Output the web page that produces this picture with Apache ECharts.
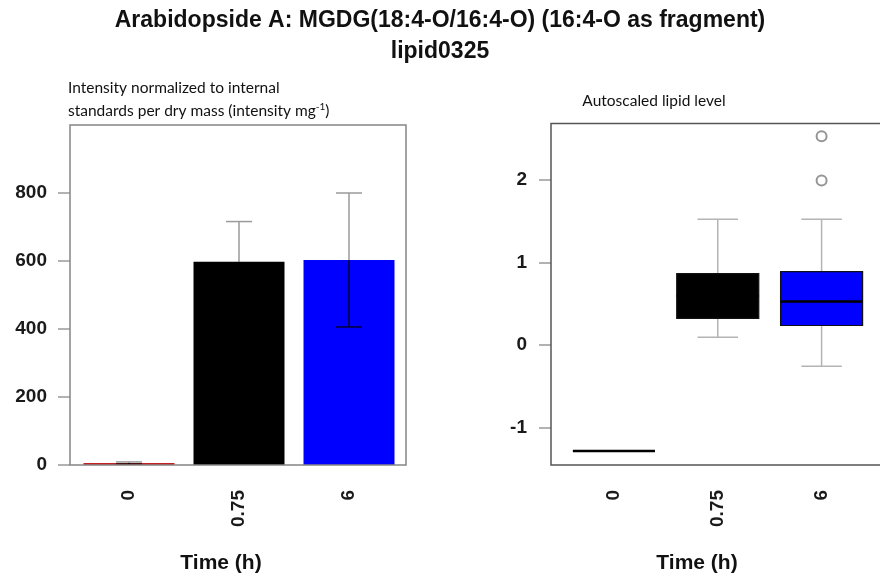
<!DOCTYPE html>
<html>
<head>
<meta charset="utf-8">
<script src="https://cdn.jsdelivr.net/npm/echarts@6/dist/echarts.min.js"></script>
<style>
  html, body { margin: 0; padding: 0; background: #ffffff; }
  #chart { width: 880px; height: 581px; }
</style>
</head>
<body>
<div id="chart"></div>
<script>
// Sampling times (h)
const timePoints = ['0', '0.75', '6'];
const barColors = ['#c42222', '#000000', '#0000ff'];

// Normalized intensity (intensity mg^-1): mean and standard deviation
const meanIntensity = [6, 598, 603];
const sdIntensity = [3, 118, 197];
const intensityTicks = [0, 200, 400, 600, 800];

// Autoscaled lipid level: [lower whisker, Q1, median, Q3, upper whisker]
const lowWhisker = [-1.282, 0.097, -0.255];
const q1 = [-1.282, 0.324, 0.239];
const median = [-1.282, 0.60, 0.530];
const q3 = [-1.282, 0.867, 0.891];
const highWhisker = [-1.282, 1.525, 1.525];
const outlierTime = ['6', '6'];
const outlierValue = [2.533, 1.996];
const autoscaleTicks = [-1, 0, 1, 2];

const tickFont = { fontFamily: 'Liberation Sans', fontWeight: 'bold', fontSize: 19, color: '#1a1a1a' };

const chart = echarts.init(document.getElementById('chart'), null, { renderer: 'canvas' });

function errorBarItem(params, api) {
  const i = api.value(0), m = api.value(1), s = api.value(2);
  const top = api.coord([i, m + s]);
  const mid = api.coord([i, m]);
  const bot = api.coord([i, m - s]);
  const hw = 13;
  const upper = { stroke: '#9a9a9a', lineWidth: 1.5 };
  const lower = { stroke: '#000000', lineWidth: 1.2 };
  return {
    type: 'group',
    children: [
      { type: 'line', shape: { x1: mid[0], y1: mid[1], x2: top[0], y2: top[1] }, style: upper },
      { type: 'line', shape: { x1: top[0] - hw, y1: top[1], x2: top[0] + hw, y2: top[1] }, style: upper },
      { type: 'line', shape: { x1: mid[0], y1: mid[1], x2: bot[0], y2: bot[1] }, style: lower },
      { type: 'line', shape: { x1: bot[0] - hw, y1: bot[1], x2: bot[0] + hw, y2: bot[1] }, style: lower }
    ]
  };
}

function boxItem(params, api) {
  const i = api.value(0);
  const band = api.size([1, 0])[0];
  const boxW = band * 0.79;
  const capW = band * 0.39;
  const pLow = api.coord([i, api.value(1)]);
  const pQ1 = api.coord([i, api.value(2)]);
  const pMed = api.coord([i, api.value(3)]);
  const pQ3 = api.coord([i, api.value(4)]);
  const pHigh = api.coord([i, api.value(5)]);
  const x = pMed[0];
  const whisker = { stroke: '#b4b4b4', lineWidth: 1.5 };
  return {
    type: 'group',
    children: [
      { type: 'line', shape: { x1: x, y1: pQ3[1], x2: x, y2: pHigh[1] }, style: whisker },
      { type: 'line', shape: { x1: x - capW / 2, y1: pHigh[1], x2: x + capW / 2, y2: pHigh[1] }, style: whisker },
      { type: 'line', shape: { x1: x, y1: pQ1[1], x2: x, y2: pLow[1] }, style: whisker },
      { type: 'line', shape: { x1: x - capW / 2, y1: pLow[1], x2: x + capW / 2, y2: pLow[1] }, style: whisker },
      {
        type: 'rect',
        shape: { x: x - boxW / 2, y: pQ3[1], width: boxW, height: pQ1[1] - pQ3[1] },
        style: { fill: barColors[i], stroke: '#111', lineWidth: 1.2 }
      },
      { type: 'line', shape: { x1: x - boxW / 2, y1: pMed[1], x2: x + boxW / 2, y2: pMed[1] }, style: { stroke: '#000000', lineWidth: 2.5 } }
    ]
  };
}

const option = {
  backgroundColor: '#ffffff',
  animation: false,
  grid: [
    { left: 74, top: 125, width: 330, height: 340 },
    { left: 562, top: 123.5, width: 311.5, height: 341.5 }
  ],
  xAxis: [
    {
      gridIndex: 0, type: 'category', data: timePoints,
      axisLine: { show: false },
      axisTick: { alignWithLabel: true, length: 12, lineStyle: { color: '#999', width: 1.5 } },
      axisLabel: Object.assign({ rotate: 90, margin: 25 }, tickFont)
    },
    {
      gridIndex: 1, type: 'category', data: timePoints,
      axisLine: { show: false },
      axisTick: { alignWithLabel: true, length: 12, lineStyle: { color: '#999', width: 1.5 } },
      axisLabel: Object.assign({ rotate: 90, margin: 25 }, tickFont)
    }
  ],
  yAxis: [
    {
      gridIndex: 0, type: 'value', min: 0, max: 1000, offset: 4,
      axisLine: { show: false },
      splitLine: { show: false },
      axisTick: { show: true, length: 12, customValues: intensityTicks, lineStyle: { color: '#999', width: 1.5 } },
      axisLabel: Object.assign({ margin: 23, customValues: intensityTicks }, tickFont)
    },
    {
      gridIndex: 1, type: 'value', min: -1.452, max: 2.687, offset: 11,
      axisLine: { show: false },
      splitLine: { show: false },
      axisTick: { show: true, length: 12, customValues: autoscaleTicks, lineStyle: { color: '#999', width: 1.5 } },
      axisLabel: Object.assign({ margin: 24, customValues: autoscaleTicks }, tickFont)
    }
  ],
  series: [
    {
      type: 'bar', xAxisIndex: 0, yAxisIndex: 0, barWidth: 91,
      data: meanIntensity.map((v, i) => ({ value: v, itemStyle: { color: barColors[i] } }))
    },
    {
      type: 'custom', xAxisIndex: 0, yAxisIndex: 0, z: 5,
      renderItem: errorBarItem,
      encode: { x: 0, y: 1 },
      data: meanIntensity.map((m, i) => [i, m, sdIntensity[i]])
    },
    {
      type: 'custom', xAxisIndex: 1, yAxisIndex: 1,
      renderItem: boxItem,
      encode: { x: 0, y: [1, 2, 3, 4, 5] },
      data: timePoints.map((t, i) => [i, lowWhisker[i], q1[i], median[i], q3[i], highWhisker[i]])
    },
    {
      type: 'scatter', xAxisIndex: 1, yAxisIndex: 1, z: 6,
      symbol: 'emptyCircle', symbolSize: 10,
      itemStyle: { color: '#7a7a7a', borderColor: '#7a7a7a', borderWidth: 1.5 },
      data: outlierTime.map((t, i) => [t, outlierValue[i]])
    }
  ],
  graphic: [
    // plot frames
    { type: 'rect', z: 50, shape: { x: 70, y: 125, width: 336, height: 340 }, style: { fill: 'none', stroke: '#858585', lineWidth: 1.5 } },
    { type: 'rect', z: 50, shape: { x: 551, y: 123.5, width: 345, height: 341.5 }, style: { fill: 'none', stroke: '#555555', lineWidth: 1.5 } },
    // titles
    { type: 'text', x: 440, y: 21, style: { text: 'Arabidopside A: MGDG(18:4-O/16:4-O) (16:4-O as fragment)', align: 'center', verticalAlign: 'middle', font: 'bold 23px "Liberation Sans"', fill: '#111' } },
    { type: 'text', x: 440, y: 52, style: { text: 'lipid0325', align: 'center', verticalAlign: 'middle', font: 'bold 23px "Liberation Sans"', fill: '#111' } },
    { type: 'text', x: 68, y: 88, style: { text: 'Intensity normalized to internal', align: 'left', verticalAlign: 'middle', font: '15.5px Lato', fill: '#111' } },
    {
      type: 'text', x: 68, y: 111,
      style: {
        text: 'standards per dry mass (intensity mg{sup|-1})',
        align: 'left', verticalAlign: 'middle', font: '15.5px Lato', fill: '#111',
        rich: { sup: { fontSize: 10, fontFamily: 'Lato', verticalAlign: 'top', padding: [0, 0, 8, 0] } }
      }
    },
    { type: 'text', x: 654, y: 101, style: { text: 'Autoscaled lipid level', align: 'center', verticalAlign: 'middle', font: '15.5px Lato', fill: '#111' } },
    { type: 'text', x: 221, y: 563, style: { text: 'Time (h)', align: 'center', verticalAlign: 'middle', font: 'bold 21px "Liberation Sans"', fill: '#111' } },
    { type: 'text', x: 697, y: 563, style: { text: 'Time (h)', align: 'center', verticalAlign: 'middle', font: 'bold 21px "Liberation Sans"', fill: '#111' } }
  ]
};

chart.setOption(option);
</script>
</body>
</html>
